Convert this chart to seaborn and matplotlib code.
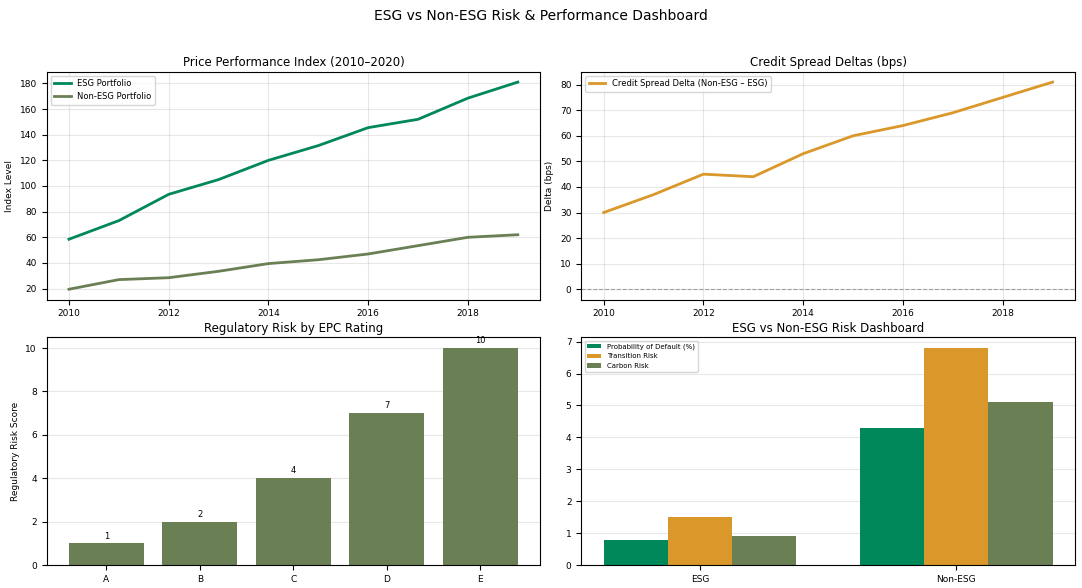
import pandas as pd
import matplotlib
matplotlib.use("Agg")
import matplotlib.pyplot as plt
import seaborn as sns

# dados
years = [2010, 2011, 2012, 2013, 2014, 2015, 2016, 2017, 2018, 2019]
esg_index = [58.5, 73, 93.5, 105, 120, 131.5, 145.5, 152, 168.5, 181]
non_esg_index = [19.5, 27, 28.5, 33.5, 39.5, 42.5, 47, 53.5, 60, 62]
spread_delta = [30, 37, 45, 44, 53, 60, 64, 69, 75, 81]

epc_ratings = ["A", "B", "C", "D", "E"]
epc_scores = [1, 2, 4, 7, 10]

groups = ["ESG", "Non-ESG"]
metrics = ["Probability of Default (%)", "Transition Risk", "Carbon Risk"]
pd_vals = [0.8, 4.3]
transition_vals = [1.5, 6.8]
carbon_vals = [0.9, 5.1]

GREEN = "#00875A"
ORANGE = "#DA972A"
OLIVE = "#6B7F55"

plt.rcParams["font.family"] = ["DejaVu Sans"]
plt.rcParams["xtick.labelsize"] = 6.5
plt.rcParams["ytick.labelsize"] = 6.5
plt.rcParams["axes.titlesize"] = 8.5
plt.rcParams["axes.titlepad"] = 4
plt.rcParams["axes.labelsize"] = 6.5

fig, axes = plt.subplots(2, 2, figsize=(10.82, 5.88), dpi=100)
fig.subplots_adjust(left=0.043, right=0.9935, top=0.878, bottom=0.039,
                    hspace=0.165, wspace=0.083)
fig.suptitle("ESG vs Non-ESG Risk & Performance Dashboard", fontsize=10, y=0.985)

# Plot 1: índice de preço
df_idx = pd.DataFrame({
    "Year": years * 2,
    "Index": esg_index + non_esg_index,
    "Portfolio": ["ESG Portfolio"] * len(years) + ["Non-ESG Portfolio"] * len(years),
})
ax = axes[0, 0]
sns.lineplot(data=df_idx, x="Year", y="Index", hue="Portfolio",
             palette=[GREEN, OLIVE], linewidth=2, ax=ax)
ax.set_title("Price Performance Index (2010\u20132020)")
ax.set_xlabel("")
ax.set_ylabel("Index Level")
ax.set_xticks([2010, 2012, 2014, 2016, 2018])
ax.set_yticks(range(20, 181, 20))
ax.grid(True, alpha=0.3)
ax.legend(loc="upper left", fontsize=6, title=None)

# Plot 2: delta de spread
df_sp = pd.DataFrame({"Year": years, "Delta": spread_delta})
ax = axes[0, 1]
sns.lineplot(data=df_sp, x="Year", y="Delta", color=ORANGE, linewidth=2,
             label="Credit Spread Delta (Non-ESG \u2013 ESG)", ax=ax)
ax.axhline(0, color="grey", linestyle="--", linewidth=0.8, alpha=0.7)
ax.set_title("Credit Spread Deltas (bps)")
ax.set_xlabel("")
ax.set_ylabel("Delta (bps)")
ax.set_xticks([2010, 2012, 2014, 2016, 2018])
ax.grid(True, alpha=0.3)
ax.legend(loc="upper left", fontsize=6)

# Plot 3: risco regulatório
df_epc = pd.DataFrame({"EPC": epc_ratings, "Score": epc_scores})
ax = axes[1, 0]
sns.barplot(data=df_epc, x="EPC", y="Score", color=OLIVE, saturation=1,
            width=0.8, linewidth=0, ax=ax)
for c in ax.containers:
    ax.bar_label(c, fontsize=6, padding=2)
ax.set_title("Regulatory Risk by EPC Rating")
ax.set_xlabel("")
ax.set_ylabel("Regulatory Risk Score")
ax.set_xlim(-0.64, 4.64)
ax.set_ylim(0, 10.5)
ax.grid(True, axis="y", alpha=0.3)
ax.set_axisbelow(True)

# Plot 4: painel de risco
df_risk = pd.DataFrame({
    "Group": groups * 3,
    "Value": pd_vals + transition_vals + carbon_vals,
    "Metric": [metrics[0]] * 2 + [metrics[1]] * 2 + [metrics[2]] * 2,
})
ax = axes[1, 1]
sns.barplot(data=df_risk, x="Group", y="Value", hue="Metric",
            palette=[GREEN, ORANGE, OLIVE], saturation=1, width=0.75,
            gap=0, linewidth=0, ax=ax)
ax.set_title("ESG vs Non-ESG Risk Dashboard")
ax.set_xlabel("")
ax.set_ylabel("")
ax.set_xlim(-0.4625, 1.4625)
ax.set_ylim(0, 7.14)
ax.grid(True, axis="y", alpha=0.3)
ax.set_axisbelow(True)
ax.legend(loc="upper left", fontsize=5, title=None)

plt.savefig("out.png", dpi=100)
